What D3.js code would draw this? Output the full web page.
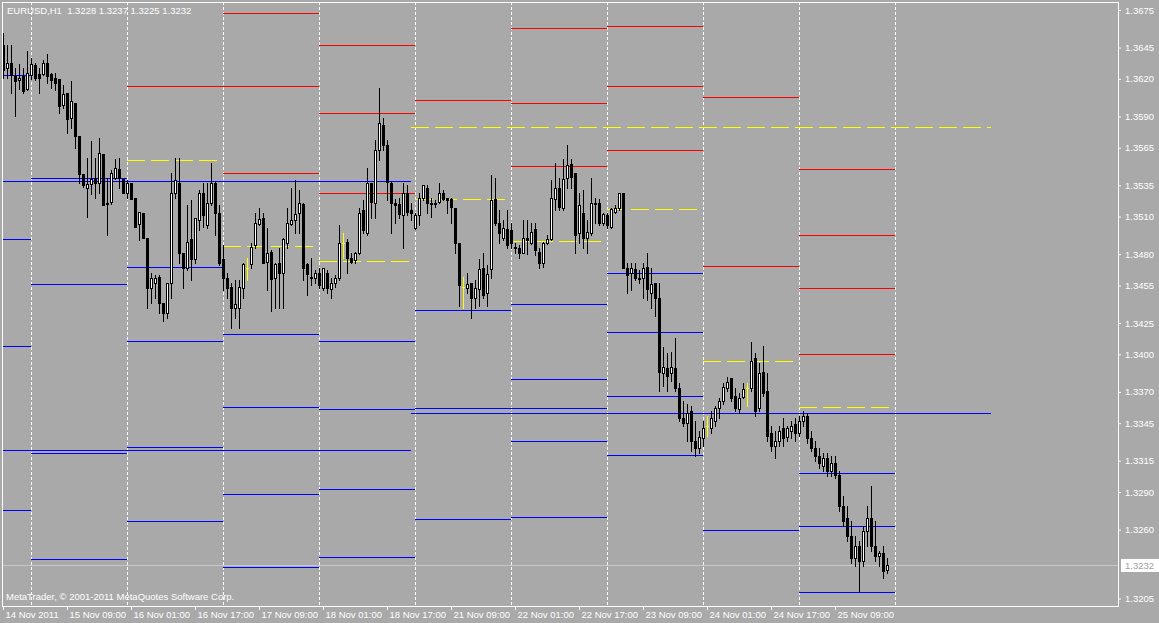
<!DOCTYPE html>
<html>
<head>
<meta charset="utf-8">
<title>EURUSD,H1</title>
<script src="https://cdn.jsdelivr.net/npm/d3@7/dist/d3.min.js"></script>
<style>
  html, body { margin: 0; padding: 0; background: #a9a9a9; overflow: hidden; }
  svg { display: block; }
</style>
</head>
<body>
<div id="chart"></div>
<script>
// EURUSD hourly bars, 14 Nov 2011 17:00 .. 25 Nov 2011 22:00
const opens = [
  1.3647,1.3629,1.3633,1.3622,1.3619,1.3622,1.3612,1.3623,1.3631,1.3624,
  1.3624,1.3633,1.3624,1.3621,1.3620,1.3599,1.3609,1.3589,1.3601,1.3574,
  1.3544,1.3533,1.3536,1.3541,1.3537,1.3560,1.3521,1.3522,1.3541,1.3548,
  1.3540,1.3529,1.3537,1.3525,1.3504,1.3513,1.3493,1.3453,1.3457,1.3462,
  1.3441,1.3433,1.3457,1.3529,1.3537,1.3481,1.3469,1.3492,1.3476,1.3507,
  1.3529,1.3503,1.3521,1.3537,1.3513,1.3476,1.3461,1.3454,1.3437,1.3437,
  1.3453,1.3469,1.3472,1.3487,1.3504,1.3509,1.3474,1.3482,1.3461,1.3473,
  1.3465,1.3489,1.3504,1.3507,1.3513,1.3520,1.3472,1.3462,1.3461,1.3465,
  1.3453,1.3465,1.3452,1.3457,1.3461,1.3489,1.3490,1.3477,1.3475,1.3481,
  1.3515,1.3497,1.3537,1.3521,1.3563,1.3583,1.3567,1.3537,1.3521,1.3520,
  1.3511,1.3529,1.3515,1.3501,1.3511,1.3525,1.3533,1.3521,1.3521,1.3522,
  1.3529,1.3525,1.3524,1.3517,1.3489,1.3454,1.3453,1.3457,1.3445,1.3452,
  1.3469,1.3449,1.3468,1.3524,1.3505,1.3493,1.3500,1.3499,1.3486,1.3485,
  1.3481,1.3493,1.3489,1.3500,1.3482,1.3473,1.3489,1.3492,1.3524,1.3533,
  1.3517,1.3541,1.3552,1.3545,1.3497,1.3513,1.3493,1.3497,1.3521,1.3521,
  1.3505,1.3511,1.3502,1.3514,1.3517,1.3529,1.3469,1.3465,1.3468,1.3461,
  1.3461,1.3470,1.3449,1.3457,1.3445,1.3385,1.3389,1.3385,1.3389,1.3373,
  1.3349,1.3345,1.3355,1.3331,1.3325,1.3333,1.3343,1.3341,1.3347,1.3357,
  1.3363,1.3373,1.3381,1.3367,1.3356,1.3366,1.3373,1.3373,1.3397,1.3357,
  1.3386,1.3371,1.3337,1.3327,1.3331,1.3341,1.3334,1.3339,1.3344,1.3337,
  1.3347,1.3351,1.3333,1.3325,1.3319,1.3311,1.3317,1.3307,1.3313,1.3304,
  1.3279,1.3269,1.3255,1.3237,1.3247,1.3235,1.3259,1.3269,1.3247,1.3239,
  1.3241,1.3228
];
const highs = [
  1.3657,1.3647,1.3647,1.3629,1.3632,1.3629,1.3642,1.3637,1.3633,1.3629,
  1.3635,1.3640,1.3625,1.3625,1.3620,1.3615,1.3609,1.3618,1.3601,1.3574,
  1.3544,1.3557,1.3570,1.3557,1.3573,1.3560,1.3541,1.3547,1.3556,1.3557,
  1.3540,1.3539,1.3537,1.3525,1.3514,1.3513,1.3493,1.3465,1.3463,1.3463,
  1.3441,1.3457,1.3545,1.3557,1.3557,1.3481,1.3519,1.3523,1.3509,1.3531,
  1.3537,1.3537,1.3553,1.3538,1.3519,1.3487,1.3465,1.3457,1.3459,1.3459,
  1.3473,1.3477,1.3489,1.3513,1.3517,1.3513,1.3501,1.3483,1.3473,1.3485,
  1.3493,1.3517,1.3533,1.3539,1.3531,1.3521,1.3473,1.3477,1.3467,1.3469,
  1.3469,1.3467,1.3461,1.3463,1.3503,1.3497,1.3492,1.3481,1.3482,1.3517,
  1.3523,1.3549,1.3537,1.3571,1.3613,1.3589,1.3571,1.3538,1.3524,1.3525,
  1.3537,1.3535,1.3521,1.3513,1.3529,1.3535,1.3535,1.3525,1.3523,1.3537,
  1.3531,1.3525,1.3525,1.3517,1.3489,1.3462,1.3465,1.3457,1.3459,1.3476,
  1.3481,1.3471,1.3543,1.3541,1.3515,1.3507,1.3515,1.3505,1.3489,1.3487,
  1.3507,1.3507,1.3505,1.3505,1.3485,1.3490,1.3495,1.3539,1.3553,1.3541,
  1.3556,1.3567,1.3556,1.3545,1.3529,1.3531,1.3507,1.3541,1.3525,1.3524,
  1.3513,1.3513,1.3517,1.3519,1.3529,1.3529,1.3473,1.3473,1.3473,1.3467,
  1.3473,1.3481,1.3469,1.3457,1.3457,1.3406,1.3401,1.3402,1.3413,1.3377,
  1.3363,1.3360,1.3359,1.3347,1.3339,1.3347,1.3351,1.3355,1.3359,1.3365,
  1.3377,1.3382,1.3381,1.3373,1.3369,1.3377,1.3377,1.3410,1.3401,1.3393,
  1.3407,1.3385,1.3343,1.3339,1.3343,1.3349,1.3343,1.3347,1.3349,1.3351,
  1.3355,1.3353,1.3339,1.3331,1.3325,1.3321,1.3321,1.3319,1.3319,1.3307,
  1.3287,1.3279,1.3267,1.3255,1.3251,1.3263,1.3279,1.3295,1.3267,1.3243,
  1.3247,1.3237
];
const lows = [
  1.3621,1.3621,1.3609,1.3590,1.3612,1.3609,1.3611,1.3620,1.3619,1.3609,
  1.3623,1.3617,1.3613,1.3611,1.3593,1.3597,1.3577,1.3581,1.3565,1.3537,
  1.3534,1.3510,1.3528,1.3525,1.3529,1.3519,1.3495,1.3520,1.3540,1.3533,
  1.3529,1.3525,1.3524,1.3502,1.3491,1.3493,1.3437,1.3441,1.3445,1.3433,
  1.3427,1.3429,1.3445,1.3525,1.3473,1.3453,1.3467,1.3459,1.3473,1.3499,
  1.3502,1.3501,1.3519,1.3495,1.3471,1.3451,1.3445,1.3421,1.3429,1.3421,
  1.3445,1.3459,1.3469,1.3485,1.3503,1.3473,1.3451,1.3435,1.3437,1.3437,
  1.3437,1.3485,1.3503,1.3497,1.3497,1.3459,1.3447,1.3455,1.3457,1.3453,
  1.3451,1.3449,1.3445,1.3454,1.3459,1.3477,1.3465,1.3473,1.3473,1.3480,
  1.3497,1.3495,1.3509,1.3509,1.3555,1.3563,1.3523,1.3497,1.3505,1.3509,
  1.3485,1.3511,1.3507,1.3500,1.3503,1.3523,1.3513,1.3510,1.3518,1.3521,
  1.3523,1.3513,1.3505,1.3481,1.3439,1.3437,1.3449,1.3429,1.3437,1.3439,
  1.3445,1.3439,1.3461,1.3503,1.3489,1.3491,1.3485,1.3485,1.3481,1.3477,
  1.3481,1.3480,1.3488,1.3479,1.3469,1.3470,1.3488,1.3491,1.3515,1.3515,
  1.3515,1.3533,1.3533,1.3481,1.3489,1.3485,1.3481,1.3495,1.3505,1.3503,
  1.3503,1.3501,1.3501,1.3513,1.3515,1.3469,1.3449,1.3451,1.3459,1.3457,
  1.3445,1.3443,1.3437,1.3431,1.3371,1.3375,1.3371,1.3379,1.3371,1.3347,
  1.3343,1.3331,1.3323,1.3319,1.3321,1.3327,1.3335,1.3337,1.3343,1.3349,
  1.3360,1.3371,1.3363,1.3355,1.3353,1.3365,1.3359,1.3371,1.3351,1.3355,
  1.3367,1.3331,1.3323,1.3317,1.3327,1.3327,1.3331,1.3333,1.3331,1.3335,
  1.3343,1.3329,1.3323,1.3315,1.3309,1.3307,1.3303,1.3303,1.3301,1.3275,
  1.3263,1.3251,1.3233,1.3231,1.3211,1.3231,1.3247,1.3243,1.3235,1.3231,
  1.3221,1.3225
];
const closes = [
  1.3627,1.3633,1.3623,1.3618,1.3621,1.3610,1.3625,1.3632,1.3621,1.3621,
  1.3633,1.3622,1.3619,1.3617,1.3598,1.3608,1.3588,1.3602,1.3574,1.3544,
  1.3535,1.3536,1.3540,1.3537,1.3561,1.3519,1.3520,1.3545,1.3549,1.3541,
  1.3529,1.3537,1.3524,1.3502,1.3514,1.3493,1.3453,1.3461,1.3461,1.3441,
  1.3433,1.3457,1.3529,1.3539,1.3481,1.3469,1.3490,1.3476,1.3509,1.3529,
  1.3511,1.3521,1.3537,1.3513,1.3473,1.3461,1.3453,1.3437,1.3440,1.3454,
  1.3472,1.3469,1.3486,1.3505,1.3508,1.3473,1.3481,1.3460,1.3472,1.3465,
  1.3492,1.3505,1.3507,1.3512,1.3521,1.3469,1.3464,1.3461,1.3465,1.3455,
  1.3469,1.3453,1.3457,1.3461,1.3489,1.3489,1.3477,1.3474,1.3481,1.3513,
  1.3499,1.3537,1.3522,1.3563,1.3585,1.3567,1.3538,1.3521,1.3519,1.3512,
  1.3529,1.3514,1.3513,1.3511,1.3525,1.3535,1.3521,1.3520,1.3520,1.3529,
  1.3524,1.3523,1.3518,1.3489,1.3455,1.3454,1.3456,1.3445,1.3453,1.3468,
  1.3447,1.3464,1.3523,1.3505,1.3497,1.3501,1.3487,1.3489,1.3485,1.3481,
  1.3493,1.3491,1.3498,1.3483,1.3473,1.3489,1.3492,1.3525,1.3533,1.3518,
  1.3540,1.3551,1.3542,1.3495,1.3519,1.3493,1.3498,1.3521,1.3520,1.3505,
  1.3512,1.3503,1.3516,1.3517,1.3529,1.3469,1.3463,1.3469,1.3461,1.3460,
  1.3469,1.3452,1.3456,1.3445,1.3386,1.3390,1.3383,1.3390,1.3373,1.3349,
  1.3345,1.3353,1.3331,1.3325,1.3334,1.3341,1.3343,1.3349,1.3357,1.3363,
  1.3374,1.3378,1.3365,1.3357,1.3365,1.3372,1.3373,1.3395,1.3355,1.3385,
  1.3369,1.3335,1.3327,1.3331,1.3339,1.3333,1.3341,1.3343,1.3337,1.3347,
  1.3351,1.3333,1.3325,1.3319,1.3313,1.3317,1.3307,1.3313,1.3304,1.3279,
  1.3267,1.3255,1.3237,1.3247,1.3235,1.3259,1.3269,1.3247,1.3239,1.3241,
  1.3227,1.3232
];

// time axis: one label every 16 bars
const timeLabels = ["14 Nov 2011", "15 Nov 09:00", "16 Nov 01:00", "16 Nov 17:00", "17 Nov 09:00",
  "18 Nov 01:00", "18 Nov 17:00", "21 Nov 09:00", "22 Nov 01:00", "22 Nov 17:00",
  "23 Nov 09:00", "24 Nov 01:00", "24 Nov 17:00", "25 Nov 09:00"];
const labelStep = 16;

// price scale labels
const priceTicks = [1.3675, 1.3645, 1.3620, 1.3590, 1.3565, 1.3535, 1.3510, 1.3480, 1.3455,
  1.3425, 1.3400, 1.3370, 1.3345, 1.3315, 1.3290, 1.3260, 1.3205];

// first bar of each day -> period separators
const dayStarts = [7, 31, 55, 79, 103, 127, 151, 175, 199, 223];

// pivot levels: one entry per period (days 14..25 Nov, then the two weeks)
const periodFrom = [0, 7, 31, 55, 79, 103, 127, 151, 175, 199, 0, 102];
const periodTo   = [7, 31, 55, 79, 103, 127, 151, 175, 199, 223, 102, 247];
const pivots = [null, null, 1.35550, 1.34864, 1.34744, 1.35239, 1.34904, 1.35159, 1.33945, 1.33578, null, 1.35814];
const resistances = [
  [], [], [1.36141], [1.36724, 1.36141, 1.35447], [1.36469, 1.35926, 1.35287], [1.36030],
  [1.36605, 1.36006, 1.35503], [1.36621, 1.36141, 1.35630], [1.36054, 1.34704],
  [1.35479, 1.34951, 1.34528, 1.34001], [], []
];
const supports = [
  [1.36229, 1.34920, 1.34065, 1.32755], [1.35407, 1.34560, 1.33210, 1.32364],
  [1.34696, 1.34105, 1.33258, 1.32667], [1.34161, 1.33578, 1.32883, 1.32300],
  [1.34105, 1.33562, 1.32923, 1.32380], [1.34352, 1.33570, 1.32683],
  [1.34400, 1.33801, 1.33570, 1.33306, 1.32699], [1.34648, 1.34177, 1.33666, 1.33194],
  [1.32595], [1.33051, 1.32627, 1.32100], [1.35383, 1.33234], [1.33530]
];

const W = 1159, H = 623;
const plotLeft = 2, plotTop = 2, plotRight = 1118, plotBottom = 606;
const font = "'Liberation Sans', Arial, sans-serif";

const svg = d3.select("#chart").append("svg").attr("width", W).attr("height", H);
svg.append("rect").attr("width", W).attr("height", H).attr("fill", "#a9a9a9");

const y = d3.scaleLinear().domain([1.3205, 1.3675]).range([598.5, 10]);
const x = d3.scaleLinear().domain([0, 1]).range([3, 7]);  // bar index -> pixel column
const col = i => Math.round(x(i));
const row = v => Math.round(y(v));

svg.append("clipPath").attr("id", "plot-clip")
  .append("rect").attr("x", plotLeft + 1).attr("y", plotTop + 1)
  .attr("width", plotRight - plotLeft - 1).attr("height", plotBottom - plotTop - 1);
const plot = svg.append("g").attr("clip-path", "url(#plot-clip)");

// day separators
plot.append("g").selectAll("line").data(dayStarts).join("line")
  .attr("x1", d => col(d) + 0.5).attr("x2", d => col(d) + 0.5)
  .attr("y1", plotTop).attr("y2", plotBottom)
  .attr("stroke", "#fff").attr("stroke-dasharray", "3,2");

// pivot lines
const levels = [];
periodFrom.forEach((f, k) => {
  resistances[k].forEach(v => levels.push({f, t: periodTo[k], v, kind: "r"}));
  supports[k].forEach(v => levels.push({f, t: periodTo[k], v, kind: "s"}));
  if (pivots[k] != null) levels.push({f, t: periodTo[k], v: pivots[k], kind: "p"});
});
const levelColor = {r: "#ff0000", s: "#0000ff", p: "#ffff00"};
plot.append("g").selectAll("line").data(levels).join("line")
  .attr("x1", d => col(d.f)).attr("x2", d => col(d.t))
  .attr("y1", d => row(d.v) + 0.5).attr("y2", d => row(d.v) + 0.5)
  .attr("stroke", d => levelColor[d.kind])
  .attr("stroke-dasharray", d => d.kind === "p" ? "18,6" : null);

// bid line
const last = closes.length - 1;
plot.append("line")
  .attr("x1", plotLeft).attr("x2", plotRight)
  .attr("y1", row(closes[last]) + 0.5).attr("y2", row(closes[last]) + 0.5)
  .attr("stroke", "#c8c8c8");

// candles
const bars = d3.range(opens.length).map(i => ({i, o: opens[i], h: highs[i], l: lows[i], c: closes[i]}));
const candle = plot.append("g").selectAll("g").data(bars).join("g");
candle.append("line")
  .attr("x1", d => col(d.i) + 0.5).attr("x2", d => col(d.i) + 0.5)
  .attr("y1", d => row(d.h)).attr("y2", d => row(d.l) + 1)
  .attr("stroke", d => d.o === d.c ? "#ffff00" : "#000");
candle.filter(d => d.o !== d.c).append("rect")
  .attr("x", d => col(d.i) - 0.5)
  .attr("y", d => row(Math.max(d.o, d.c)) + 0.5)
  .attr("width", 2)
  .attr("height", d => Math.max(1, row(Math.min(d.o, d.c)) - row(Math.max(d.o, d.c))))
  .attr("fill", d => d.c > d.o ? "#fff" : "#000")
  .attr("stroke", "#000");
candle.filter(d => d.o === d.c).append("line")
  .attr("x1", d => col(d.i) - 1).attr("x2", d => col(d.i) + 2)
  .attr("y1", d => row(d.o) + 0.5).attr("y2", d => row(d.o) + 0.5)
  .attr("stroke", "#ffff00");

// frame
svg.append("rect")
  .attr("x", plotLeft + 0.5).attr("y", plotTop + 0.5)
  .attr("width", plotRight - plotLeft).attr("height", plotBottom - plotTop)
  .attr("fill", "none").attr("stroke", "#fff");

// price axis
svg.append("g").attr("transform", `translate(${plotRight},0)`)
  .call(d3.axisRight(y).tickValues(priceTicks).tickFormat(d3.format(".4f")).tickSize(3).tickPadding(4))
  .call(g => g.select(".domain").remove())
  .call(g => g.selectAll("line").attr("stroke", "#fff"))
  .call(g => g.selectAll("text").attr("fill", "#fff"))
  .attr("font-family", font).attr("font-size", 9.5);

// current price tag
const bidRow = row(closes[last]);
svg.append("rect").attr("x", plotRight + 3).attr("y", bidRow - 6).attr("width", W - plotRight).attr("height", 13).attr("fill", "#fff");
svg.append("text").attr("x", plotRight + 7).attr("y", bidRow + 4)
  .attr("font-family", font).attr("font-size", 9.5).attr("fill", "#a0a0a0")
  .text(d3.format(".4f")(closes[last]));

// time axis
svg.append("g").attr("transform", `translate(0,${plotBottom})`)
  .call(d3.axisBottom(x).tickValues(d3.range(0, opens.length, labelStep))
    .tickFormat((d, k) => timeLabels[k]).tickSize(4))
  .call(g => g.select(".domain").remove())
  .call(g => g.selectAll("line").attr("stroke", "#fff"))
  .call(g => g.selectAll("text").attr("fill", "#fff").attr("text-anchor", "start")
    .attr("x", 2).attr("y", 12).attr("dy", null))
  .attr("font-family", font).attr("font-size", 9.5);

// captions
const fmt = d3.format(".4f");
svg.append("text").attr("x", 7).attr("y", 14)
  .attr("font-family", font).attr("font-size", 9.5).attr("fill", "#fff")
  .style("white-space", "pre")
  .text(`EURUSD,H1  ${fmt(opens[last])} ${fmt(highs[last])} ${fmt(lows[last])} ${fmt(closes[last])}`);
svg.append("text").attr("x", 6).attr("y", 600)
  .attr("font-family", font).attr("font-size", 9.5).attr("fill", "#fff")
  .text("MetaTrader, © 2001-2011 MetaQuotes Software Corp.");
</script>
</body>
</html>
